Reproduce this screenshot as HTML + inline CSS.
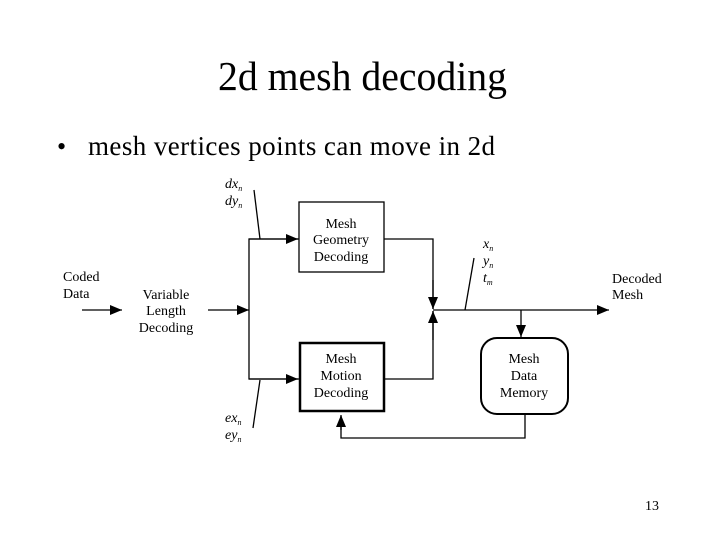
<!DOCTYPE html>
<html><head><meta charset="utf-8"><style>
html,body{margin:0;padding:0;background:#fff;}
svg{display:block;}
text{font-family:"Liberation Serif",serif;fill:#000;}
</style></head><body>
<svg width="720" height="540" viewBox="0 0 720 540" xmlns="http://www.w3.org/2000/svg">
<defs><marker id="a" markerWidth="12" markerHeight="10" refX="12" refY="5" orient="auto" markerUnits="userSpaceOnUse"><path d="M0,0 L12,5 L0,10 Z" fill="#000"/></marker></defs>
<text x="218" y="90" font-size="41" textLength="289" lengthAdjust="spacingAndGlyphs">2d mesh decoding</text>
<text x="57" y="155" font-size="26">•</text>
<text x="88" y="155" font-size="27" textLength="407">mesh vertices points can move in 2d</text>
<g stroke="#000" stroke-width="1.3" fill="none">
<rect x="299" y="202" width="85" height="70"/>
<rect x="300" y="343" width="84" height="68" stroke-width="2.5"/>
<rect x="481" y="338" width="87" height="76" rx="16" stroke-width="2"/>
<line x1="82" y1="310" x2="122" y2="310" marker-end="url(#a)"/>
<line x1="208" y1="310" x2="249" y2="310" marker-end="url(#a)"/>
<polyline points="299,239 249,239 249,379 299,379"/>
<line x1="249" y1="239" x2="298" y2="239" marker-end="url(#a)"/>
<line x1="249" y1="379" x2="298" y2="379" marker-end="url(#a)"/>
<line x1="254" y1="190" x2="260" y2="239"/>
<line x1="260" y1="380" x2="253" y2="428"/>
<polyline points="384,239 433,239 433,309"/>
<line x1="433" y1="280" x2="433" y2="309" marker-end="url(#a)"/>
<polyline points="384,379 433,379 433,311"/>
<line x1="433" y1="340" x2="433" y2="311" marker-end="url(#a)"/>
<line x1="433" y1="310" x2="609" y2="310" marker-end="url(#a)"/>
<line x1="474" y1="258" x2="465" y2="310"/>
<line x1="521" y1="310" x2="521" y2="337" marker-end="url(#a)"/>
<polyline points="525,414 525,438 341,438 341,416"/>
<line x1="341" y1="430" x2="341" y2="415" marker-end="url(#a)"/>
</g>
<g font-size="14" text-anchor="middle">
<text x="341" y="228">Mesh</text><text x="341" y="244">Geometry</text><text x="341" y="261">Decoding</text>
<text x="341" y="363">Mesh</text><text x="341" y="380">Motion</text><text x="341" y="397">Decoding</text>
<text x="524" y="363">Mesh</text><text x="524" y="380">Data</text><text x="524" y="397">Memory</text>
<text x="166" y="299">Variable</text><text x="166" y="315">Length</text><text x="166" y="332">Decoding</text>
</g>
<g font-size="14">
<text x="63" y="281">Coded</text><text x="63" y="298">Data</text>
<text x="612" y="283">Decoded</text><text x="612" y="299">Mesh</text>
<text x="225" y="188" font-style="italic">dx<tspan font-size="8" dy="3">n</tspan></text>
<text x="225" y="205" font-style="italic">dy<tspan font-size="8" dy="3">n</tspan></text>
<text x="225" y="422" font-style="italic">ex<tspan font-size="8" dy="3">n</tspan></text>
<text x="225" y="439" font-style="italic">ey<tspan font-size="8" dy="3">n</tspan></text>
<text x="483" y="248" font-style="italic">x<tspan font-size="8" dy="3">n</tspan></text>
<text x="483" y="265" font-style="italic">y<tspan font-size="8" dy="3">n</tspan></text>
<text x="483" y="282" font-style="italic">t<tspan font-size="8" dy="3">m</tspan></text>
<text x="645" y="510">13</text>
</g>
</svg>
</body></html>
